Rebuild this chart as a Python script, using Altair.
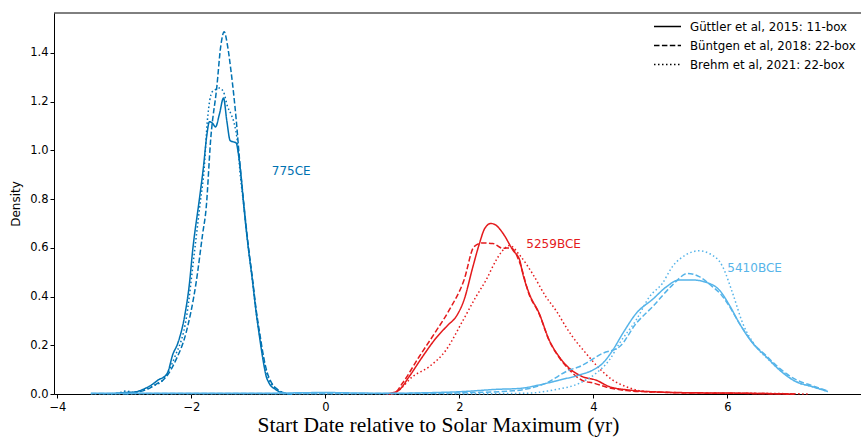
import altair as alt
import pandas as pd

# Event colours
EVENTS = ["775CE", "5259BCE", "5410BCE"]
EVENT_COLORS = ["#0072B2", "#E41A1C", "#56B4E9"]

# Reconstructions (line style)
SOURCES = ["Güttler et al, 2015: 11-box",
           "Büntgen et al, 2018: 22-box",
           "Brehm et al, 2021: 22-box"]

# ---- 775CE density curves ----
x_775_g15 = [-3.2, -3.0, -2.85, -2.73, -2.58, -2.48, -2.42, -2.35, -2.28, -2.2, -2.1, -2.03, -1.98,
             -1.88, -1.82, -1.77, -1.73, -1.68, -1.64, -1.58, -1.52, -1.47, -1.42, -1.33, -1.30,
             -1.26, -1.22, -1.15, -1.09, -1.03, -0.985, -0.93, -0.885, -0.84, -0.74, -0.64, -0.5]
y_775_g15 = [0.0, 0.006, 0.008, 0.018, 0.04, 0.06, 0.068, 0.09, 0.16, 0.21, 0.32, 0.45, 0.59,
             0.80, 0.93, 1.06, 1.118, 1.11, 1.096, 1.15, 1.215, 1.12, 1.04, 1.03, 0.99,
             0.90, 0.78, 0.60, 0.47, 0.33, 0.24, 0.14, 0.075, 0.045, 0.018, 0.004, 0.0]

x_775_b18 = [-3.0, -2.8, -2.65, -2.5, -2.43, -2.35, -2.23, -2.08, -1.93, -1.83, -1.78, -1.71, -1.62,
             -1.56, -1.51, -1.46, -1.41, -1.33, -1.28, -1.22, -1.15, -1.09, -1.03, -0.98, -0.92,
             -0.87, -0.8, -0.72, -0.62, -0.5]
y_775_b18 = [0.0, 0.008, 0.02, 0.045, 0.055, 0.08, 0.14, 0.25, 0.455, 0.66, 0.76, 1.05, 1.26,
             1.43, 1.487, 1.43, 1.33, 1.125, 0.96, 0.79, 0.61, 0.48, 0.34, 0.25, 0.15,
             0.09, 0.045, 0.02, 0.005, 0.0]

x_775_b21 = [-3.3, -3.1, -2.97, -2.85, -2.7, -2.55, -2.45, -2.35, -2.25, -2.07, -1.955, -1.87, -1.81,
             -1.76, -1.69, -1.64, -1.58, -1.52, -1.46, -1.41, -1.36, -1.31, -1.27, -1.22, -1.15,
             -1.09, -1.03, -0.98, -0.92, -0.87, -0.8, -0.72, -0.62, -0.5]
y_775_b21 = [0.0, 0.004, 0.012, 0.006, 0.018, 0.035, 0.05, 0.09, 0.15, 0.32, 0.58, 0.78, 0.92,
             1.125, 1.24, 1.25, 1.256, 1.24, 1.18, 1.15, 1.11, 1.03, 0.90, 0.78, 0.60,
             0.47, 0.33, 0.24, 0.14, 0.08, 0.04, 0.018, 0.004, 0.0]

# ---- 5259BCE density curves ----
x_5259_g15 = [0.9, 1.0, 1.1, 1.25, 1.45, 1.65, 1.83, 1.95, 2.07, 2.2, 2.3, 2.38, 2.47, 2.56, 2.65,
              2.8, 2.9, 2.945, 3.04, 3.19, 3.34, 3.49, 3.64, 3.84, 4.04, 4.24, 4.54, 5.0, 5.5,
              6.0, 6.5, 7.0]
y_5259_g15 = [0.0, 0.005, 0.016, 0.071, 0.153, 0.229, 0.283, 0.317, 0.386, 0.52, 0.618, 0.68, 0.70,
              0.69, 0.66, 0.59, 0.55, 0.496, 0.414, 0.332, 0.222, 0.153, 0.106, 0.071, 0.057,
              0.030, 0.016, 0.008, 0.005, 0.004, 0.002, 0.0]

x_5259_b18 = [0.95, 1.03, 1.15, 1.4, 1.63, 1.85, 2.07, 2.22, 2.35, 2.5, 2.65, 2.77, 2.9, 3.04,
              3.19, 3.34, 3.49, 3.64, 3.84, 4.0, 4.2, 4.5, 5.0, 5.5, 6.0, 6.5, 7.0]
y_5259_b18 = [0.0, 0.003, 0.044, 0.153, 0.249, 0.345, 0.468, 0.605, 0.62, 0.618, 0.598, 0.60,
              0.54, 0.41, 0.33, 0.22, 0.15, 0.10, 0.055, 0.045, 0.028, 0.014, 0.007, 0.004,
              0.003, 0.002, 0.0]

x_5259_b21 = [1.0, 1.1, 1.3, 1.55, 1.8, 2.05, 2.25, 2.4, 2.55, 2.65, 2.75, 2.9, 3.09, 3.29, 3.45,
              3.59, 3.69, 3.89, 4.09, 4.29, 4.49, 4.79, 5.2, 5.7, 6.2, 6.7, 7.2]
y_5259_b21 = [0.0, 0.016, 0.071, 0.112, 0.18, 0.30, 0.40, 0.468, 0.55, 0.59, 0.61, 0.57, 0.495,
              0.40, 0.34, 0.276, 0.235, 0.167, 0.105, 0.057, 0.03, 0.01, 0.006, 0.004, 0.003,
              0.002, 0.0]

# ---- 5410BCE density curves ----
x_5410_g15 = [-3.5, -2.0, -1.0, 0.0, 0.5, 1.0, 1.5, 2.05, 2.55, 2.9, 3.19, 3.49, 3.79, 3.99, 4.14,
              4.29, 4.44, 4.64, 4.89, 5.09, 5.28, 5.48, 5.73, 5.88, 6.03, 6.18, 6.38, 6.58,
              6.78, 7.03, 7.27, 7.5]
y_5410_g15 = [0.003, 0.003, 0.003, 0.006, 0.004, 0.003, 0.005, 0.01, 0.019, 0.023, 0.037, 0.057,
              0.078, 0.098, 0.126, 0.18, 0.249, 0.331, 0.39, 0.44, 0.468, 0.468, 0.454, 0.427,
              0.365, 0.29, 0.208, 0.153, 0.098, 0.05, 0.03, 0.01]

x_5410_b18 = [-3.5, -1.0, 0.5, 1.5, 2.2, 2.8, 3.29, 3.64, 3.79, 4.14, 4.39, 4.64, 4.89, 5.18,
              5.41, 5.58, 5.78, 5.9, 6.03, 6.18, 6.38, 6.58, 6.78, 7.03, 7.27, 7.5]
y_5410_b18 = [0.002, 0.002, 0.002, 0.003, 0.006, 0.013, 0.044, 0.098, 0.112, 0.167, 0.194, 0.29,
              0.36, 0.447, 0.495, 0.482, 0.44, 0.41, 0.36, 0.29, 0.21, 0.157, 0.105, 0.058,
              0.034, 0.012]

x_5410_b21 = [-3.5, 0.0, 2.0, 3.0, 3.39, 3.79, 4.04, 4.24, 4.39, 4.64, 4.84, 5.03, 5.18, 5.38,
              5.58, 5.73, 5.93, 6.08, 6.23, 6.43, 6.6, 6.8, 7.03, 7.27, 7.5]
y_5410_b21 = [0.001, 0.001, 0.001, 0.003, 0.016, 0.044, 0.085, 0.14, 0.208, 0.304, 0.40, 0.454,
              0.523, 0.571, 0.588, 0.577, 0.523, 0.413, 0.29, 0.194, 0.145, 0.095, 0.05, 0.03,
              0.01]

# Event labels
label_x = [-0.8, 3.0, 6.0]
label_y = [0.9, 0.6, 0.5]

curves = [
    ("775CE", SOURCES[0], x_775_g15, y_775_g15),
    ("775CE", SOURCES[1], x_775_b18, y_775_b18),
    ("775CE", SOURCES[2], x_775_b21, y_775_b21),
    ("5259BCE", SOURCES[0], x_5259_g15, y_5259_g15),
    ("5259BCE", SOURCES[1], x_5259_b18, y_5259_b18),
    ("5259BCE", SOURCES[2], x_5259_b21, y_5259_b21),
    ("5410BCE", SOURCES[0], x_5410_g15, y_5410_g15),
    ("5410BCE", SOURCES[1], x_5410_b18, y_5410_b18),
    ("5410BCE", SOURCES[2], x_5410_b21, y_5410_b21),
]

rows = []
for ev, src, xs, ys in curves:
    for i, (xv, yv) in enumerate(zip(xs, ys)):
        rows.append({"event": ev, "source": src, "x": xv, "density": yv, "i": i})
df = pd.DataFrame(rows)

labels = pd.DataFrame({"event": EVENTS, "x": label_x, "density": label_y})

W, H = 807, 381
x_scale = alt.Scale(domain=[-4.05, 7.995], nice=False, zero=False)
y_scale = alt.Scale(domain=[0, 1.564], nice=False, zero=False)
color_scale = alt.Scale(domain=EVENTS, range=EVENT_COLORS)

lines = alt.Chart(df).mark_line(strokeWidth=1.5, interpolate="monotone").encode(
    x=alt.X("x:Q", scale=x_scale,
            axis=alt.Axis(values=[-4, -2, 0, 2, 4, 6], format="d",
                          title="Start Date relative to Solar Maximum (yr)",
                          titleFont="Liberation Serif", titleFontSize=21.5,
                          titleFontWeight="normal", titlePadding=2,
                          titleX=384, titleAlign="center")),
    y=alt.Y("density:Q", scale=y_scale,
            axis=alt.Axis(values=[0, 0.2, 0.4, 0.6, 0.8, 1.0, 1.2, 1.4], format=".1f",
                          title="Density", titleFont="DejaVu Sans", titleFontSize=12,
                          titleFontWeight="normal", titlePadding=7)),
    color=alt.Color("event:N", scale=color_scale, legend=None),
    strokeDash=alt.StrokeDash(
        "source:N",
        scale=alt.Scale(domain=SOURCES, range=[[1, 0], [5.5, 2.4], [1.5, 2.5]]),
        legend=alt.Legend(title=None, orient="none", legendX=599, legendY=4,
                          symbolType="stroke", symbolStrokeColor="black",
                          symbolStrokeWidth=1.5, symbolSize=729,
                          labelFont="DejaVu Sans", labelFontSize=11.8, labelColor="black",
                          labelOffset=8, labelLimit=400, clipHeight=19, rowPadding=0,
                          padding=0),
    ),
    detail="event:N",
    order="i:Q",
)

texts = alt.Chart(labels).mark_text(
    align="left", baseline="alphabetic", font="DejaVu Sans", fontSize=12
).encode(
    x=alt.X("x:Q", scale=x_scale),
    y=alt.Y("density:Q", scale=y_scale),
    text="event:N",
    color=alt.Color("event:N", scale=color_scale, legend=None),
)

top_spine = alt.Chart(pd.DataFrame({"k": [0]})).mark_rule(
    color="black", strokeWidth=1
).encode(x=alt.value(0), x2=alt.value(W), y=alt.value(0))

chart = alt.layer(lines, texts, top_spine).properties(
    width=W, height=H,
    autosize=alt.AutoSizeParams(type="none"),
    padding={"left": 54, "top": 13, "right": 0, "bottom": 43},
).configure_view(stroke=None).configure_axis(
    labelFont="DejaVu Sans", labelFontSize=11.5, labelColor="black",
    domainColor="black", domainWidth=1, tickColor="black", tickSize=4,
    tickWidth=1, labelPadding=2, grid=False, titleColor="black",
).configure_axisX(labelPadding=3)

chart.save("out.html", embed_options={"renderer": "svg", "actions": False})
